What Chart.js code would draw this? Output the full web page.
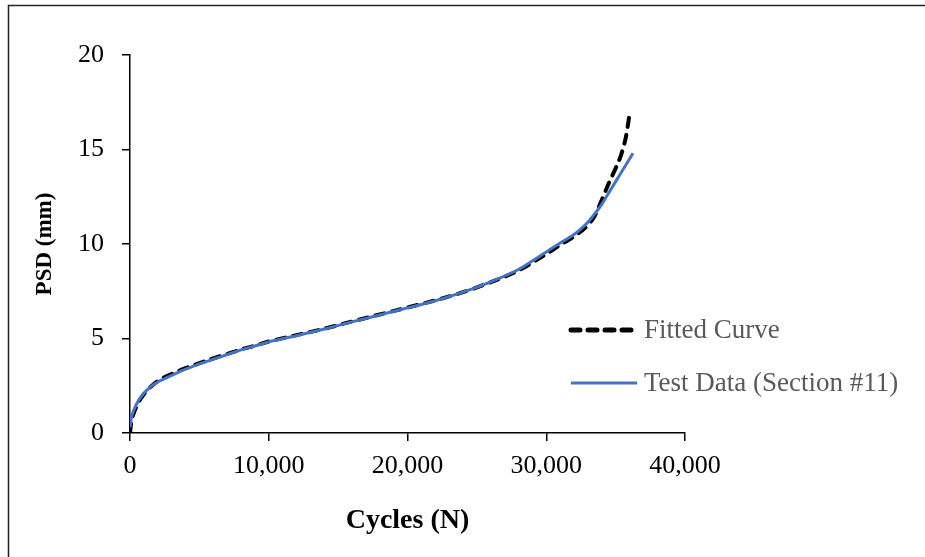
<!DOCTYPE html>
<html>
<head>
<meta charset="utf-8">
<script src="https://cdn.jsdelivr.net/npm/chart.js@4/dist/chart.umd.min.js"></script>
<style>
  html, body { margin: 0; padding: 0; background: #fff; }
  #wrap { width: 925px; height: 557px; position: relative; }
</style>
</head>
<body>
<div id="wrap"><canvas id="c" width="925" height="557"></canvas></div>
<script>
// ---- data ----
const seriesNames = ["Fitted Curve", "Test Data (Section #11)"];
const xTicks = [0, 10000, 20000, 30000, 40000];
const yTicks = [0, 5, 10, 15, 20];

const testX = [0, 100, 300, 600, 1000, 1500, 2000, 3000, 4000, 5000, 6000, 7000, 8000, 9000, 10000,
  12000, 14000, 16000, 18000, 20000, 22000, 24000, 26000, 28000, 29000, 30000, 31000, 32000, 32500, 33000,
  33500, 34000, 34500, 35000, 35500, 36000, 36250];
const testY = [0.3, 0.8, 1.25, 1.7, 2.1, 2.45, 2.7, 3.05, 3.38, 3.65, 3.9, 4.15, 4.4, 4.6, 4.82,
  5.15, 5.5, 5.88, 6.25, 6.62, 7.0, 7.45, 8.0, 8.65, 9.1, 9.58, 10.05, 10.5, 10.8, 11.15,
  11.6, 12.1, 12.7, 13.3, 13.9, 14.5, 14.8];

const fitX = [0, 100, 300, 600, 1000, 1500, 2000, 3000, 4000, 5000, 6000, 7000, 8000, 9000, 10000,
  12000, 14000, 16000, 18000, 20000, 22000, 24000, 26000, 28000, 29000, 30000, 31000, 32000, 33000,
  33500, 33870, 34590, 35000, 35430, 35750, 36000];
const fitY = [0, 0.6, 1.1, 1.6, 2.05, 2.45, 2.75, 3.12, 3.43, 3.7, 3.95, 4.18, 4.42, 4.62, 4.84,
  5.18, 5.52, 5.9, 6.27, 6.64, 7.02, 7.45, 7.98, 8.6, 9.02, 9.47, 9.95, 10.4, 11.0,
  11.5, 12.1, 13.35, 14.0, 14.8, 15.7, 16.85];

const toPts = (xs, ys) => xs.map((x, i) => ({ x: x, y: ys[i] }));

const FONT = "'Liberation Serif', 'Times New Roman', serif";

const framePlugin = {
  id: 'frame',
  afterDraw(chart) {
    const ctx = chart.ctx;
    ctx.save();
    ctx.strokeStyle = '#222';
    ctx.lineWidth = 1.5;
    ctx.beginPath();
    ctx.moveTo(8.5, 557);
    ctx.lineTo(8.5, 5.5);
    ctx.lineTo(925, 5.5);
    ctx.stroke();
    ctx.restore();
  }
};

const legendPlugin = {
  id: 'customLegend',
  afterDraw(chart) {
    const ctx = chart.ctx;
    ctx.save();
    const items = [
      { ds: chart.data.datasets[1], y: 330 },
      { ds: chart.data.datasets[0], y: 383 }
    ];
    items.forEach(it => {
      ctx.beginPath();
      ctx.strokeStyle = it.ds.borderColor;
      ctx.lineWidth = it.ds.borderDash && it.ds.borderDash.length ? 5 : it.ds.borderWidth;
      ctx.lineCap = it.ds.borderDash && it.ds.borderDash.length ? 'round' : 'butt';
      ctx.setLineDash(it.ds.borderDash || []);
      ctx.moveTo(571, it.y);
      ctx.lineTo(637, it.y);
      ctx.stroke();
      ctx.setLineDash([]);
      ctx.fillStyle = '#595959';
      ctx.font = "27px " + FONT;
      ctx.textBaseline = 'middle';
      ctx.textAlign = 'left';
      ctx.fillText(it.ds.label, 644, it.y + 1);
    });
    ctx.restore();
  }
};

new Chart(document.getElementById('c'), {
  type: 'line',
  data: {
    datasets: [
      {
        label: seriesNames[1],
        data: toPts(testX, testY),
        borderColor: '#4472C4',
        borderWidth: 3,
        pointRadius: 0,
        cubicInterpolationMode: 'monotone',
        fill: false,
        order: 0
      },
      {
        label: seriesNames[0],
        data: toPts(fitX, fitY),
        borderColor: '#000000',
        borderWidth: 4,
        borderDash: [9, 8],
        borderCapStyle: 'round',
        pointRadius: 0,
        cubicInterpolationMode: 'monotone',
        fill: false,
        order: 1
      }
    ]
  },
  options: {
    responsive: false,
    animation: false,
    layout: { padding: { top: 55, right: 240, bottom: 0, left: 0 } },
    plugins: { legend: { display: false }, tooltip: { enabled: false } },
    scales: {
      x: {
        type: 'linear',
        min: 0, max: 40000,
        afterBuildTicks(scale) { scale.ticks = xTicks.map(v => ({ value: v })); },
        afterFit(scale) { scale.height = 124; },
        ticks: {
          color: '#000',
          font: { family: FONT, size: 26 },
          padding: 10,
          maxRotation: 0,
          callback: v => v.toLocaleString('en-US')
        },
        grid: { drawOnChartArea: false, drawTicks: true, tickLength: 8, color: '#000', lineWidth: 1.5 },
        border: { color: '#000', width: 1.5 },
        title: {
          display: true,
          text: 'Cycles (N)',
          color: '#000',
          font: { family: FONT, size: 28, weight: 'bold' },
          padding: { top: 0, bottom: 19 }
        }
      },
      y: {
        type: 'linear',
        min: 0, max: 20,
        afterBuildTicks(scale) { scale.ticks = yTicks.map(v => ({ value: v })); },
        afterFit(scale) { scale.width = 130; },
        ticks: {
          color: '#000',
          font: { family: FONT, size: 26 },
          padding: 18
        },
        grid: { drawOnChartArea: false, drawTicks: true, tickLength: 8, color: '#000', lineWidth: 1.5 },
        border: { color: '#000', width: 1.5 },
        title: {
          display: true,
          text: 'PSD (mm)',
          color: '#000',
          font: { family: FONT, size: 23, weight: 'bold' },
          padding: { top: 31, bottom: 0 }
        }
      }
    }
  },
  plugins: [framePlugin, legendPlugin]
});
</script>
</body>
</html>
